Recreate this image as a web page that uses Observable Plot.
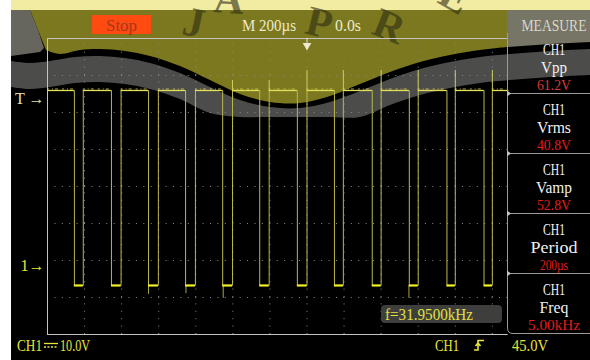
<!DOCTYPE html>
<html><head><meta charset="utf-8">
<script src="https://cdn.jsdelivr.net/npm/d3@7"></script>
<script src="https://cdn.jsdelivr.net/npm/@observablehq/plot@0.6"></script>
<style>
html,body{margin:0;padding:0;background:#fff;}
#wrap{position:relative;width:590px;height:360px;overflow:hidden;background:#fff;}
#wrap > svg{position:absolute;left:0;top:0;}
</style></head><body><div id="wrap"></div>
<script>
// ---- data ----
const timePerDiv = 200;            // µs per division
const voltsPerDiv = 10;            // V per division
const fallTimes = [-1255, -1055, -855, -655, -455, -255, -52, 148, 352, 552, 755, 955];   // µs
const riseTimes = [-1207, -1003, -802, -602, -402, -204, 0, 196, 400, 600, 800, 1000];     // µs
const highLevel = 47.3;            // V
const lowLevel = -5.4;             // V
const spikeUpTimes = [-402, -204, 0, 196, 400, 600, 800, 1000];
const spikeUpPeaks = [50.0, 50.0, 52.7, 52.7, 52.7, 52.7, 52.7, 52.7];
const spikeDownTimes = [-855, -653, -452, 550];
const spikeDownPeaks = [-7.8, -7.6, -8.9, -8.9];
const triggerLevel = 45.0;         // V
const channelLabel = "CH1";
const measureNames = ["Vpp", "Vrms", "Vamp", "Period", "Freq"];
const measureValues = ["61.2V", "40.8V", "52.8V", "200µs", "5.00kHz"];
const headerTexts = ["Stop", "M 200µs", "0.0s", "MEASURE"];
const footerTexts = ["CH1", "10.0V", "CH1", "45.0V"];
const cursorText = "f=31.9500kHz";

// ---- scales ----
const xDomain = [-7 * timePerDiv, 7 * timePerDiv];
const yDomain = [-18.65, -18.65 + 8 * voltsPerDiv];
const panelT = 1085;
const xGrid = [-6, -5, -4, -3, -2, -1, 0, 1, 2, 3, 4, 5].map(k => k * timePerDiv);
const yGrid = [1, 2, 3, 4, 5, 6, 7].map(k => yDomain[0] + k * voltsPerDiv);

// trace table
const trace = [{t: xDomain[0], v: highLevel}];
fallTimes.forEach((f, i) => {
  trace.push({t: f, v: highLevel}, {t: f, v: lowLevel}, {t: riseTimes[i], v: lowLevel}, {t: riseTimes[i], v: highLevel});
});
trace.push({t: panelT, v: highLevel});
const lowSegs = fallTimes.map((f, i) => ({x1: f, x2: riseTimes[i]}));
const highSegs = [{x1: xDomain[0], x2: fallTimes[0]}].concat(
  riseTimes.map((r, i) => ({x1: r, x2: i + 1 < fallTimes.length ? fallTimes[i + 1] : panelT})));
const upSpikes = spikeUpTimes.map((t, i) => ({t, v: spikeUpPeaks[i]}));
const downSpikes = spikeDownTimes.map((t, i) => ({t, v: spikeDownPeaks[i]}));

const wrap = document.getElementById("wrap");
const SERIF = "'Liberation Serif','Times New Roman',serif";

// ---- background layer: screen + watermark ----
const bg = d3.create("svg").attr("width", 590).attr("height", 360);
bg.append("rect").attr("width", 590).attr("height", 360).attr("fill", "#fff");
bg.append("rect").attr("x", 11).attr("y", 10).attr("width", 579).attr("height", 350).attr("fill", "#000");
bg.append("rect").attr("x", 11).attr("y", 0).attr("width", 579).attr("height", 10).attr("fill", "#f2eca2");
const curve = d3.line().curve(d3.curveCatmullRom);
const B = [[46,50],[60,54],[80,50],[100,49],[125,51],[150,56],[180,66],[210,80],[240,94],[270,102],[300,103],[330,96],[360,84],[390,72],[420,62],[450,55],[480,50],[507,47]];
// olive area
bg.append("path").attr("fill", "#7b781f")
  .attr("d", "M30,10 L38,30 L46,50 " + curve(B).slice(1) + " L507,10 Z");
// left gray
bg.append("path").attr("fill", "#66665f").attr("d", "M11,10 L30,10 L38,30 L44,48 L40,52 L11,56 Z");
// panel header tint
bg.append("path").attr("fill", "#777566").attr("d", "M507,10 L590,10 L590,42 L550,44 L507,47 Z");
// gray band
const U = [[11,61],[30,63],[50,61],[75,57],[100,56],[125,58],[150,63],[180,73],[210,87],[240,100],[270,107],[300,108],[330,102],[360,91],[390,79],[420,69],[450,62],[480,57],[510,54],[550,51],[590,49]];
const L = U.map(([x, y]) => [x, Math.min(y + 26, 117)]).reverse();
bg.append("path").attr("fill", "#4c4c4b").attr("d", curve(U) + " L" + curve(L).slice(1) + " Z");
// watermark letters
const wm = bg.append("g").attr("fill", "#2e2c12").attr("opacity", 0.6)
  .attr("font-family", SERIF).attr("font-weight", "bold").attr("font-size", 42).attr("text-anchor", "middle");
[["J",191,36,12],["A",228,13,4],["P",316,36,14],["R",384,39,22],["E",448,9,30]].forEach(([c,x,y,r]) => {
  wm.append("text").attr("transform", `translate(${x},${y}) rotate(${r})`).text(c);
});
wrap.appendChild(bg.node());

// ---- Plot layer ----
const chart = Plot.plot({
  width: 590, height: 360,
  marginLeft: 47, marginRight: 24, marginTop: 38, marginBottom: 26,
  x: {domain: xDomain, axis: null},
  y: {domain: yDomain, axis: null},
  style: {background: "transparent", overflow: "visible"},
  marks: [
    Plot.ruleX(xGrid, {x: d => d, y1: yDomain[0], y2: yDomain[1], stroke: "#8a8a8a", strokeDasharray: "1 6.4"}),
    Plot.ruleY(yGrid, {y: d => d, x1: xDomain[0], x2: panelT, stroke: "#8a8a8a", strokeDasharray: "1 6.41"}),
    Plot.ruleY([yDomain[0], yDomain[1]], {y: d => d, x1: xDomain[0], x2: panelT, stroke: "#c4c4c0"}),
    Plot.ruleX([xDomain[0]], {x: d => d, y1: yDomain[0], y2: yDomain[1], stroke: "#c4c4c0"}),
    Plot.ruleX(upSpikes, {x: "t", y1: highLevel, y2: "v", stroke: "#d0cc60"}),
    Plot.ruleX(downSpikes, {x: "t", y1: lowLevel, y2: "v", stroke: "#a8a448"}),
    Plot.line(trace, {x: "t", y: "v", stroke: "#bcb84a", strokeWidth: 1}),
    Plot.ruleY(highSegs, {x1: "x1", x2: "x2", y: highLevel, stroke: "#e2de5a", strokeWidth: 1.3}),
    Plot.ruleY(highSegs, {x1: "x1", x2: "x2", y: highLevel, dy: -1.5, stroke: "#d6d256", strokeWidth: 1, strokeDasharray: "2 3 1 2 3 4", opacity: 0.8}),
    Plot.ruleY(lowSegs, {x1: "x1", x2: "x2", y: lowLevel, stroke: "#f2f028", strokeWidth: 2.2}),
    Plot.ruleX([0], {x: d => d, y1: yDomain[1], y2: yDomain[1] - 1.3, stroke: "#ecead0"}),
    Plot.dot([0], {x: d => d, y: yDomain[1], dy: 7, r: 3.2, symbol: "triangle", rotate: 180, fill: "#ecead0", stroke: "none"}),
    Plot.text([triggerLevel], {x: xDomain[0], y: d => d, text: () => "T →", dx: -3, textAnchor: "end", fill: "#e6e2b0", fontSize: 16, fontFamily: SERIF}),
    Plot.text([0], {x: xDomain[0], y: d => d, text: () => "1→", dx: -3, textAnchor: "end", fill: "#e8e638", fontSize: 16, fontFamily: SERIF})
  ]
});
wrap.appendChild(chart);

// ---- foreground layer: header, measure panel, footer ----
const fg = d3.create("svg").attr("width", 590).attr("height", 360);
function txt(x, y, s, o = {}) {
  const t = fg.append("text").attr("x", x).attr("y", y).text(s)
    .attr("font-family", SERIF).attr("font-size", o.size || 16)
    .attr("fill", o.fill || "#f0f0f0").attr("text-anchor", o.anchor || "middle");
  if (o.len) t.attr("textLength", o.len).attr("lengthAdjust", "spacingAndGlyphs");
  return t;
}
// header
fg.append("rect").attr("x", 92).attr("y", 15).attr("width", 59).attr("height", 19).attr("fill", "#ff4a12");
txt(121.5, 31, headerTexts[0], {size: 16, fill: "#a8381a", len: 31});
txt(242, 31, headerTexts[1], {size: 16, fill: "#eceacc", anchor: "start", len: 54});
txt(335, 31, headerTexts[2], {size: 16, fill: "#eceacc", anchor: "start", len: 26});
txt(554, 31, headerTexts[3], {size: 16, fill: "#d8d8cc", len: 65});
// measure panel borders
const pb = fg.append("g").attr("stroke", "#9a9a9a").attr("fill", "none");
pb.append("path").attr("d", "M507.5,33 V328 Q507.5,333.5 513,333.5 H590");
[93.5, 153.5, 213.5, 273.5].forEach(y => {
  pb.append("path").attr("d", `M508,${y} H590`);
  fg.append("path").attr("d", `M507,${y - 3} L511,${y} L507,${y + 3} Z`).attr("fill", "#c0c0c0");
});
const nameLens = [26, 34, 36, 47, 29];
const valLens = [34, 34, 34, 28, 52];
measureNames.forEach((n, i) => {
  const top = 33 + i * 60;
  txt(554, top + 22, channelLabel, {size: 17, len: 22});
  txt(554, top + 40, n, {size: 17, len: nameLens[i]});
  txt(554, top + 56.5, measureValues[i], {size: 15.5, fill: i === 0 ? "#d83a3a" : "#e41c1c", len: valLens[i]});
});
// cursor readout
fg.append("rect").attr("x", 381).attr("y", 305).attr("width", 121).attr("height", 18).attr("rx", 4).attr("fill", "#3e3e3c");
txt(385, 320, cursorText, {size: 16, fill: "#e2e040", anchor: "start", len: 88});
// footer
const Y = "#e6e43c";
txt(17, 351, footerTexts[0], {size: 16, fill: Y, anchor: "start", len: 25});
fg.append("path").attr("d", "M44,343.5 H58").attr("stroke", Y).attr("stroke-width", 1.3);
fg.append("path").attr("d", "M44,347 H58").attr("stroke", Y).attr("stroke-width", 1.3).attr("stroke-dasharray", "2 1.5");
txt(60, 351, footerTexts[1], {size: 16, fill: Y, anchor: "start", len: 30});
txt(435, 351, footerTexts[2], {size: 16, fill: Y, anchor: "start", len: 24});
fg.append("path").attr("d", "M474,350 H478 V340.5 H484 M475.5,346 L478,343 L480.5,346").attr("stroke", Y).attr("stroke-width", 1.6).attr("fill", "none");
txt(512, 351, footerTexts[3], {size: 16, fill: Y, anchor: "start", len: 36});
wrap.appendChild(fg.node());
</script></body></html>
